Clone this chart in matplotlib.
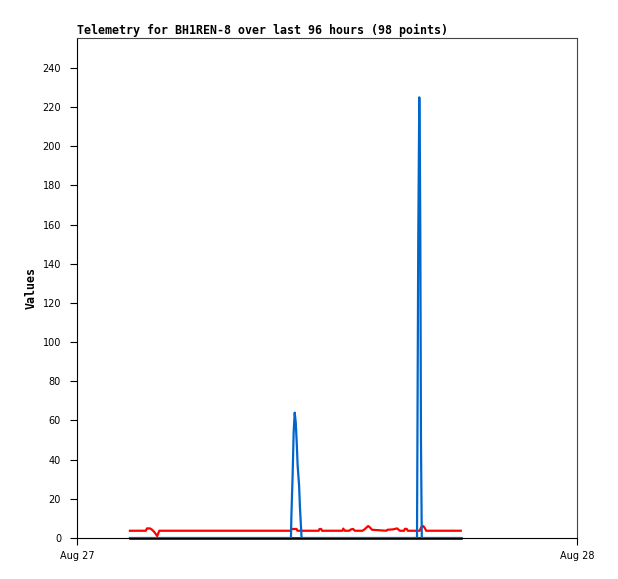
import matplotlib
matplotlib.use("Agg")
import matplotlib.pyplot as plt

# hours after Aug 27 00:00
red_hours = [2.54, 3.30, 3.36, 3.50, 3.58, 3.70, 3.85, 3.95, 10.25, 10.30, 10.54, 10.58,
             11.60, 11.64, 11.72, 11.76, 12.74, 12.78, 12.85, 12.90, 13.06, 13.15, 13.25, 13.34,
             13.70, 13.80, 13.92, 13.98, 14.06, 14.16, 14.85, 14.90, 15.17, 15.36, 15.50,
             15.70, 15.74, 15.83, 15.88, 16.45, 16.52, 16.62, 16.70, 16.76, 18.42]
red_vals = [3.7, 3.7, 4.9, 4.9, 4.4, 3.2, 1.0, 3.7, 3.7, 4.6, 4.6, 3.7,
            3.7, 4.6, 4.6, 3.7, 3.7, 4.8, 3.7, 3.7, 3.7, 4.4, 4.6, 3.7,
            3.7, 4.4, 5.6, 6.1, 5.4, 4.2, 3.7, 4.2, 4.4, 4.9, 3.7,
            3.7, 4.7, 4.6, 3.7, 3.7, 5.5, 6.1, 5.0, 3.7, 3.7]

blue_hours = [2.54, 10.27, 10.29, 10.35, 10.40, 10.45, 10.50, 10.55, 10.59, 10.66, 10.70,
              10.75, 10.78, 16.32, 16.34, 16.38, 16.43, 16.46, 16.48, 16.51, 16.55, 18.42]
blue_vals = [0, 0, 11, 32, 54, 64, 59, 48, 37, 27, 16,
             6, 0, 0, 49, 152, 225, 193, 152, 50, 0, 0]

black_hours = [2.54, 18.42]
black_vals = [0, 0]

x_ticks = [0, 24]
x_labels = ["Aug 27", "Aug 28"]
y_ticks = list(range(0, 241, 20))

fig = plt.figure(figsize=(6.18, 5.79), dpi=100)
ax = fig.add_axes([77 / 618, 41 / 579, 500 / 618, 500 / 579])

ax.plot(black_hours, black_vals, color="black", lw=1.8, clip_on=False, zorder=2)
ax.plot(red_hours, red_vals, color="#ff0000", lw=1.6, zorder=3)
ax.plot(blue_hours, blue_vals, color="#0066cc", lw=1.6, zorder=4)

ax.set_xlim(0, 24)
ax.set_ylim(0, 255.3)
ax.set_xticks(x_ticks)
ax.set_xticklabels(x_labels)
ax.set_yticks(y_ticks)
ax.tick_params(axis="both", direction="out", length=5, width=0.8, labelsize=7, colors="black")
ax.tick_params(axis="y", pad=6.5)
ax.tick_params(axis="x", pad=4.5)

for side in ["top", "right"]:
    ax.spines[side].set_color("#444444")
    ax.spines[side].set_linewidth(0.8)
for side in ["left", "bottom"]:
    ax.spines[side].set_color("black")
    ax.spines[side].set_linewidth(0.8)

ax.set_title("Telemetry for BH1REN-8 over last 96 hours (98 points)", loc="left",
             fontsize=8.36, fontweight="bold", family="DejaVu Sans Mono", pad=3)
ax.set_ylabel("Values", fontsize=8.36, fontweight="bold", family="DejaVu Sans Mono")
ax.yaxis.set_label_coords(-0.078, 0.5)

fig.savefig("out.png", dpi=100, facecolor="white")
